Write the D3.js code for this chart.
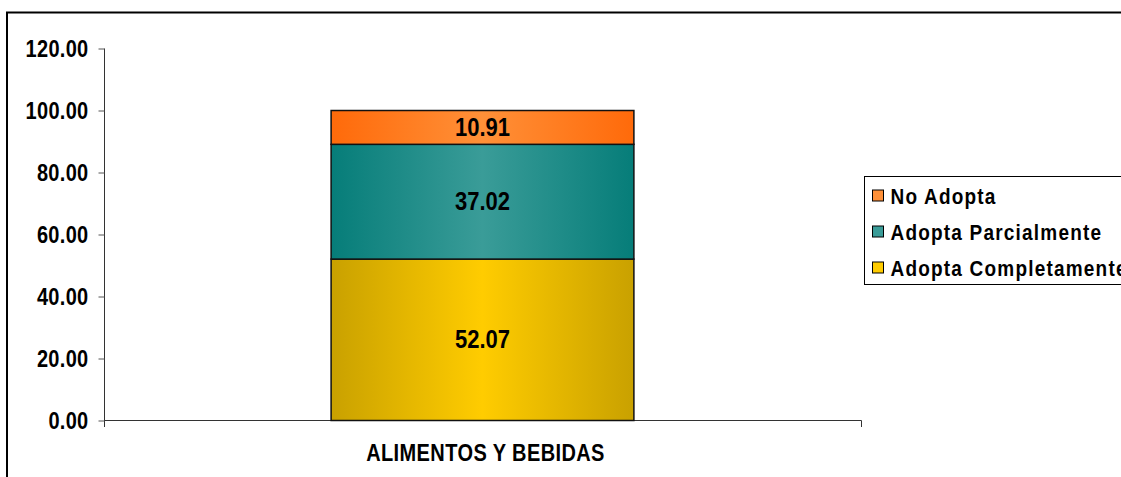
<!DOCTYPE html>
<html>
<head>
<meta charset="utf-8">
<script src="https://cdn.jsdelivr.net/npm/d3@7"></script>
<style>
  body { margin: 0; background: #fff; }
  text { font-family: "Liberation Sans", Arial, sans-serif; font-weight: bold; fill: #000; }
</style>
</head>
<body>
<div id="chart"></div>
<script>
// data
const categories = ['ALIMENTOS Y BEBIDAS'];
const seriesNames = ['Adopta Completamente', 'Adopta Parcialmente', 'No Adopta'];
const adoptaCompletamente = [52.07];
const adoptaParcialmente = [37.02];
const noAdopta = [10.91];
const yTicks = [0, 20, 40, 60, 80, 100, 120];

const width = 1121;
const height = 477;
const stretch = 1.15; // text looks slightly taller than wide

const svg = d3.select('#chart')
  .append('svg')
  .attr('width', width)
  .attr('height', height);

// colours: edge, centre
const palette = {
  'Adopta Completamente': ['#c9a100', '#ffcc00'],
  'Adopta Parcialmente': ['#067d79', '#3a9c98'],
  'No Adopta': ['#ff6a0a', '#ff9038']
};

const defs = svg.append('defs');
seriesNames.forEach((s, i) => {
  const g = defs.append('linearGradient')
    .attr('id', 'grad' + i)
    .attr('x1', '0%').attr('x2', '100%')
    .attr('y1', '0%').attr('y2', '0%');
  g.append('stop').attr('offset', '0%').attr('stop-color', palette[s][0]);
  g.append('stop').attr('offset', '50%').attr('stop-color', palette[s][1]);
  g.append('stop').attr('offset', '100%').attr('stop-color', palette[s][0]);
});

// outer frame
svg.append('rect')
  .attr('x', 7).attr('y', 12.5)
  .attr('width', 1200).attr('height', 600)
  .attr('fill', 'none')
  .attr('stroke', '#000')
  .attr('stroke-width', 2);

const x = d3.scaleBand()
  .domain(categories)
  .range([104, 861])
  .paddingInner(0)
  .paddingOuter(0.75);

const y = d3.scaleLinear()
  .domain([0, 120])
  .range([420.5, 48.5]);

// y axis
const yAxis = svg.append('g')
  .attr('transform', 'translate(104.5,0)')
  .call(d3.axisLeft(y).tickValues(yTicks).tickSize(6).tickPadding(10).tickFormat(d3.format('.2f')));
yAxis.select('.domain').attr('d', `M0,${y(120)}V427`).attr('stroke', '#333');
yAxis.selectAll('.tick line').attr('stroke', '#555');
yAxis.selectAll('.tick text')
  .attr('font-size', 20)
  .attr('letter-spacing', 0.3)
  .attr('x', null).attr('dy', null)
  .attr('dominant-baseline', 'central')
  .attr('transform', `translate(-16,0) scale(1,${stretch})`);

// x axis
svg.append('path')
  .attr('d', `M104.5,${y(0)}H861.5V427`)
  .attr('fill', 'none')
  .attr('stroke', '#333');

svg.append('g')
  .selectAll('text')
  .data(categories)
  .enter().append('text')
    .attr('text-anchor', 'middle')
    .attr('font-size', 20)
    .attr('letter-spacing', 0.4)
    .attr('dominant-baseline', 'central')
    .attr('transform', d => `translate(${x(d) + x.bandwidth() / 2 + 3},453) scale(1,${stretch})`)
    .text(d => d);

// stacked bars
const rows = categories.map((c, i) => ({
  category: c,
  'Adopta Completamente': adoptaCompletamente[i],
  'Adopta Parcialmente': adoptaParcialmente[i],
  'No Adopta': noAdopta[i]
}));
const stack = d3.stack().keys(seriesNames)(rows);

const layers = svg.append('g')
  .selectAll('g')
  .data(stack)
  .enter().append('g')
    .attr('fill', (d, i) => `url(#grad${i})`);

layers.selectAll('rect')
  .data(d => d)
  .enter().append('rect')
    .attr('x', d => x(d.data.category))
    .attr('y', d => y(d[1]))
    .attr('width', x.bandwidth())
    .attr('height', d => y(d[0]) - y(d[1]))
    .attr('stroke', '#111')
    .attr('stroke-width', 1.5);

layers.selectAll('text')
  .data(d => d)
  .enter().append('text')
    .attr('text-anchor', 'middle')
    .attr('dominant-baseline', 'central')
    .attr('font-size', 22)
    .attr('transform', d => `translate(${x(d.data.category) + x.bandwidth() / 2},${(y(d[0]) + y(d[1])) / 2}) scale(1,${stretch})`)
    .text(d => d3.format('.2f')(d[1] - d[0]));

// legend
const legend = svg.append('g').attr('transform', 'translate(864.5,176.5)');
legend.append('rect')
  .attr('width', 400).attr('height', 108)
  .attr('fill', '#fff')
  .attr('stroke', '#000');

const legendItems = legend.selectAll('g.item')
  .data(seriesNames.slice().reverse())
  .enter().append('g')
    .attr('class', 'item')
    .attr('transform', (d, i) => `translate(0,${19 + i * 36})`);

legendItems.append('rect')
  .attr('x', 8).attr('y', -5.5)
  .attr('width', 11).attr('height', 11)
  .attr('fill', d => palette[d][1])
  .attr('stroke', '#000');

legendItems.append('text')
  .attr('font-size', 19)
  .attr('dominant-baseline', 'central')
  .attr('letter-spacing', 1.2)
  .attr('transform', `translate(26,0) scale(1,${stretch})`)
  .text(d => d);
</script>
</body>
</html>
